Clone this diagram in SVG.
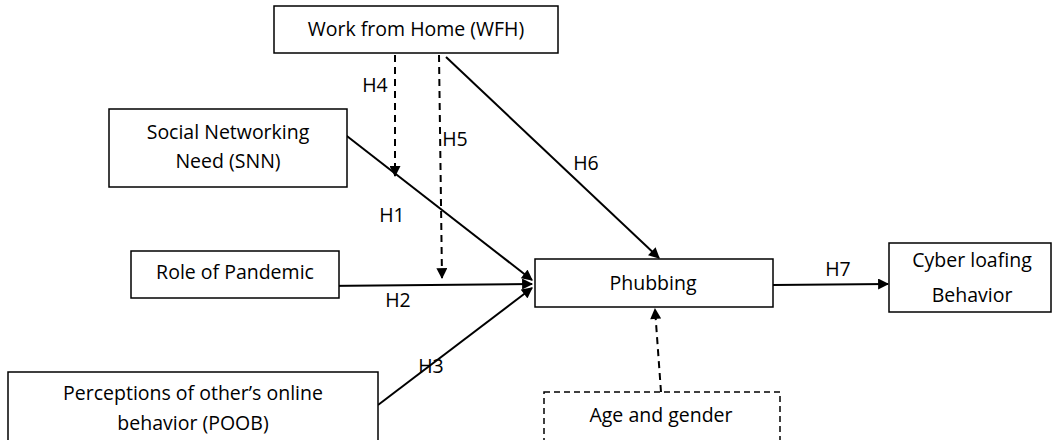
<svg xmlns="http://www.w3.org/2000/svg" width="1053" height="440" viewBox="0 0 1053 440">
<style>
.box{fill:#fff;stroke:#000;stroke-width:1.5}
.dbox{fill:#fff;stroke:#000;stroke-width:1.5;stroke-dasharray:6 4}
text{font-family:"Open Sans","Noto Sans",sans-serif;font-size:19.5px;fill:#000;text-anchor:middle}
.c{stroke:#000;stroke-width:2;fill:none;marker-end:url(#ah)}
.d{stroke-dasharray:7 5}
</style>
<defs>
<marker id="ah" viewBox="0 0 10 10" refX="9" refY="5" markerWidth="6" markerHeight="5.5" markerUnits="strokeWidth" orient="auto">
<path d="M0,0 L10,5 L0,10 z" fill="#000"/>
</marker>
</defs>
<rect width="1053" height="440" fill="#fff"/>
<g id="connectors">
<line class="c" x1="343" y1="133" x2="532" y2="280"/>
<line class="c" x1="323" y1="286" x2="532" y2="284"/>
<line class="c" x1="378" y1="405" x2="532" y2="288"/>
<line class="c" x1="446" y1="57" x2="659" y2="258"/>
<line class="c" x1="773" y1="285" x2="888" y2="284"/>
<line class="c d" x1="395" y1="55" x2="395" y2="176"/>
<line class="c d" x1="439" y1="55" x2="442" y2="278"/>
<line class="c d" x1="661" y1="392" x2="655" y2="309"/>
<text x="375" y="92">H4</text>
<text x="455" y="146">H5</text>
<text x="586" y="170">H6</text>
<text x="392" y="222">H1</text>
<text x="398" y="307">H2</text>
<text x="431" y="373">H3</text>
<text x="838" y="276">H7</text>
</g>
<g id="wfh"><rect class="box" x="274" y="6" width="284" height="47"/><text x="416" y="36">Work from Home (WFH)</text></g>
<g id="snn"><rect class="box" x="109" y="109" width="238" height="78"/><text x="228" y="139">Social Networking</text><text x="228" y="168">Need (SNN)</text></g>
<g id="pandemic"><rect class="box" x="131" y="251" width="208" height="47"/><text x="235" y="279">Role of Pandemic</text></g>
<g id="phubbing"><rect class="box" x="535" y="259" width="238" height="48"/><text x="653" y="290">Phubbing</text></g>
<g id="cyber"><rect class="box" x="889" y="243" width="162" height="69"/><text x="972" y="267">Cyber loafing</text><text x="972" y="302">Behavior</text></g>
<g id="poob"><rect class="box" x="8" y="372" width="370" height="80"/><text x="193" y="400">Perceptions of other’s online</text><text x="193" y="430">behavior (POOB)</text></g>
<g id="age"><rect class="dbox" x="544" y="392" width="236" height="60"/><text x="661" y="422">Age and gender</text></g>
</svg>
